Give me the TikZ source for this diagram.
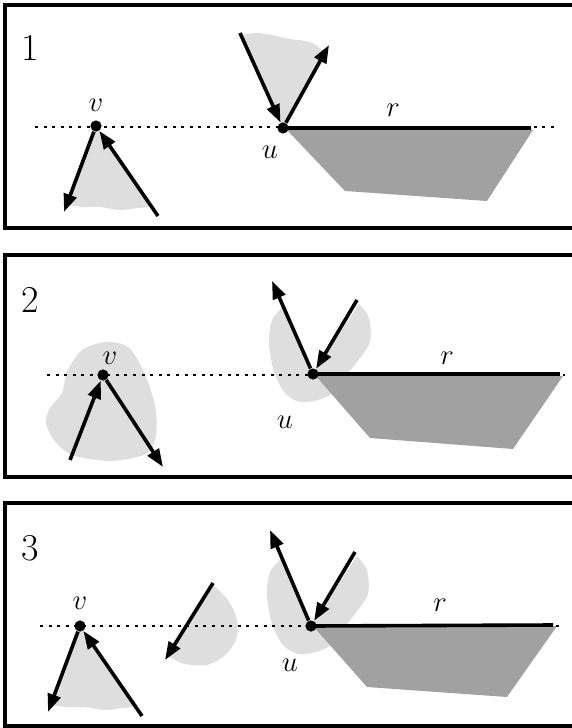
\documentclass[tikz,border=0pt]{standalone}
\usepackage{amsmath}
\usepackage{amssymb}
\usetikzlibrary{arrows.meta}

\begin{document}
\begin{tikzpicture}[x=0.5pt,y=-0.5pt,
    frame/.style={line width=1.7pt},
    blob/.style={fill=black!13},
    hull/.style={fill=black!37},
    sweepline/.style={line width=0.6pt,dash pattern=on 1.5pt off 2.8pt},
    seg/.style={line width=1.8pt},
    vec/.style={line width=1.8pt,-{Triangle[length=9pt,width=6.5pt]}},
    dot/.style={circle,fill=black,inner sep=0pt,minimum size=5.6pt},
    lbl/.style={font=\fontsize{15}{17}\selectfont},
    num/.style={font=\fontsize{19}{21}\selectfont}]

    \useasboundingbox (0,0) rectangle (572,728);

    % 1. First panel
    \draw[frame] (590,5) -- (5,5) -- (5,228) -- (590,228);
    \fill[blob] (96,126) -- (67,205)
        -- plot[smooth] coordinates {(67,205) (84,207) (100,207) (120,210) (138,208) (151,207)} -- cycle;
    \fill[blob] (283,128) -- (242,35)
        -- plot[smooth] coordinates {(242,35) (256,33) (272,35) (290,39) (305,41) (316,45) (324,52)} -- cycle;
    \fill[hull] (285,128) -- (533,130) -- (487,201) -- (345,191) -- cycle;
    \draw[sweepline] (35,127) -- (557,127);

    \node[dot] (v1) at (96,126) {};
    \node[dot] (u1) at (283,128) {};
    \coordinate (r1) at (531,128);
    \coordinate (a1) at (64,212);
    \coordinate (b1) at (158,216);
    \coordinate (c1) at (240,33);
    \coordinate (d1) at (329,45);

    \draw[seg] (u1.center) -- (r1);
    \draw[vec] (v1) -- (a1);
    \draw[vec] (b1) -- (v1);
    \draw[vec] (c1) -- (u1);
    \draw[vec] (u1) -- (d1);

    \node[num] (n1) at (30,48) {1};
    \node[lbl] (lv1) at (96,105) {$v$};
    \node[lbl] (lu1) at (270,152) {$u$};
    \node[lbl] (lr1) at (393,110) {$r$};

    % 2. Second panel
    \draw[frame] (590,255) -- (5,255) -- (5,477) -- (590,477);
    \fill[blob] plot[smooth cycle] coordinates {(106,342) (128,347) (143,370) (155,405) (156,435)
        (146,454) (110,461) (72,455) (54,440) (46,423) (50,408) (62,393) (67,372) (82,350)};
    \fill[blob] (313,374) -- (283,307)
        -- plot[smooth] coordinates {(283,307) (272,320) (269,343) (274,372) (285,393) (300,402)
            (318,400) (335,392) (345,377) (357,362) (370,342) (369,318) (359,304)} -- cycle;
    \fill[hull] (315,375) -- (563,376) -- (513,449) -- (370,438) -- cycle;
    \draw[sweepline] (47,375) -- (565,375);

    \node[dot] (v2) at (103,375) {};
    \node[dot] (u2) at (313,374) {};
    \coordinate (r2) at (560,374);
    \coordinate (a2) at (70,460);
    \coordinate (b2) at (163,467);
    \coordinate (c2) at (272,281);
    \coordinate (d2) at (357,300);

    \draw[seg] (u2.center) -- (r2);
    \draw[vec] (a2) -- (v2);
    \draw[vec] (v2) -- (b2);
    \draw[vec] (u2) -- (c2);
    \draw[vec] (d2) -- (u2);

    \node[num] (n2) at (30,300) {2};
    \node[lbl] (lv2) at (110,358) {$v$};
    \node[lbl] (lu2) at (285,422) {$u$};
    \node[lbl] (lr2) at (447,358) {$r$};

    % 3. Third panel
    \draw[frame] (590,503) -- (5,503) -- (5,726) -- (590,726);
    \fill[blob] (80,626) -- (51,705)
        -- plot[smooth] coordinates {(51,705) (68,707) (84,707) (104,710) (122,708) (135,707)} -- cycle;
    \fill[blob] (213,585)
        -- plot[smooth] coordinates {(213,585) (228,600) (237,620) (236,640) (224,656) (207,665) (185,664) (169,657)} -- cycle;
    \fill[blob] (311,626) -- (281,559)
        -- plot[smooth] coordinates {(281,559) (270,572) (267,595) (272,624) (283,645) (298,654)
            (316,652) (333,644) (343,629) (355,614) (368,594) (367,570) (357,556)} -- cycle;
    \fill[hull] (313,626) -- (557,626) -- (507,697) -- (367,687) -- cycle;
    \draw[sweepline] (40,626) -- (560,626);

    \node[dot] (v3) at (80,626) {};
    \node[dot] (u3) at (311,626) {};
    \coordinate (r3) at (553,625);
    \coordinate (a3) at (48,712);
    \coordinate (b3) at (142,716);
    \coordinate (c3) at (270,530);
    \coordinate (d3) at (355,552);
    \coordinate (e3) at (213,583);
    \coordinate (f3) at (165,660);

    \draw[seg] (u3.center) -- (r3);
    \draw[vec] (v3) -- (a3);
    \draw[vec] (b3) -- (v3);
    \draw[vec] (u3) -- (c3);
    \draw[vec] (d3) -- (u3);
    \draw[vec] (e3) -- (f3);

    \node[num] (n3) at (30,548) {3};
    \node[lbl] (lv3) at (80,603) {$v$};
    \node[lbl] (lu3) at (290,665) {$u$};
    \node[lbl] (lr3) at (440,605) {$r$};

\end{tikzpicture}
\end{document}
